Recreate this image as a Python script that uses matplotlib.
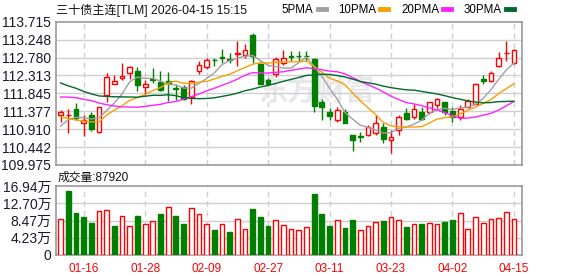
import numpy as np
import pandas as pd
import matplotlib
matplotlib.use("Agg")
import matplotlib.pyplot as plt
from matplotlib.lines import Line2D

plt.rcParams['font.family'] = ['Liberation Sans', 'Noto Sans CJK SC', 'DejaVu Sans']

# trading days shown (MM-DD)
dates = ['01-13', '01-14', '01-15', '01-16', '01-19', '01-20', '01-21', '01-22', '01-23', '01-26',
         '01-27', '01-28', '01-29', '01-30', '02-02', '02-03', '02-04', '02-05', '02-06', '02-09',
         '02-10', '02-11', '02-12', '02-13', '02-24', '02-25', '02-26', '02-27', '03-02', '03-03',
         '03-04', '03-05', '03-06', '03-09', '03-10', '03-11', '03-12', '03-13', '03-16', '03-17',
         '03-18', '03-19', '03-20', '03-23', '03-24', '03-25', '03-26', '03-27', '03-30', '03-31',
         '04-01', '04-02', '04-03', '04-07', '04-08', '04-09', '04-10', '04-13', '04-14', '04-15']
tick_dates = ['01-16', '01-28', '02-09', '02-27', '03-11', '03-23', '04-02', '04-15']

opens = [111.27, 111.27, 111.44, 111.07, 111.27, 110.84, 111.79, 112.10, 112.24, 112.37,
         112.42, 112.00, 112.23, 112.13, 112.17, 111.99, 112.00, 111.76, 112.44, 112.52,
         112.72, 112.79, 112.74, 112.87, 112.84, 113.38, 112.61, 112.19, 112.35, 112.64,
         112.82, 112.83, 112.83, 112.74, 111.62, 111.36, 111.14, 111.37, 110.76, 110.73,
         110.75, 110.81, 110.96, 110.63, 110.88, 111.32, 111.22, 111.37, 111.36, 111.53,
         111.61, 111.38, 111.23, 111.48, 111.58, 112.22, 112.16, 112.57, 112.89, 112.63]
highs = [111.41, 111.44, 111.59, 111.29, 111.35, 111.50, 112.37, 112.33, 112.64, 112.57,
         112.53, 112.19, 112.51, 112.42, 112.40, 112.09, 112.07, 112.20, 112.68, 112.78,
         112.77, 113.00, 112.91, 113.20, 113.14, 113.42, 112.64, 112.24, 112.79, 112.97,
         112.94, 112.94, 112.94, 112.77, 111.70, 111.46, 111.49, 111.44, 110.76, 110.84,
         111.03, 111.29, 111.07, 110.90, 111.27, 111.46, 111.58, 111.48, 111.63, 111.72,
         111.63, 111.48, 111.53, 111.69, 112.12, 112.33, 112.44, 112.92, 113.20, 113.00]
lows = [111.11, 110.81, 111.16, 110.74, 110.87, 110.82, 111.63, 112.10, 112.20, 112.23,
        111.90, 111.81, 112.11, 111.91, 111.65, 111.68, 111.68, 111.57, 112.35, 112.49,
        112.57, 112.65, 112.65, 112.55, 112.77, 112.65, 112.08, 112.07, 112.26, 112.58,
        112.70, 112.70, 112.68, 111.35, 111.16, 111.16, 111.09, 111.06, 110.35, 110.57,
        110.72, 110.75, 110.56, 110.30, 110.76, 111.14, 111.18, 111.16, 111.30, 111.46,
        111.29, 111.10, 111.15, 111.46, 111.56, 112.10, 112.13, 112.52, 112.70, 112.61]
closes = [111.35, 111.28, 111.20, 111.14, 110.92, 111.48, 112.26, 112.18, 112.31, 112.52,
          112.07, 112.09, 112.20, 111.94, 112.11, 111.97, 111.70, 112.18, 112.58, 112.72,
          112.71, 112.77, 112.72, 112.90, 112.97, 112.81, 112.10, 112.09, 112.75, 112.78,
          112.80, 112.81, 112.82, 111.52, 111.50, 111.25, 111.40, 111.08, 110.64, 110.71,
          110.96, 111.07, 110.66, 110.70, 111.24, 111.18, 111.43, 111.18, 111.61, 111.70,
          111.36, 111.24, 111.44, 111.65, 112.08, 112.16, 112.37, 112.76, 112.91, 112.98]
# closes before the first visible day (needed for the moving averages)
prev_closes = [113.48, 113.10, 113.64, 112.82, 113.08, 112.66, 112.43, 112.41, 112.62, 112.20,
               111.35, 111.47, 112.01, 111.59, 112.75, 113.13, 112.85, 112.78, 112.59, 112.17,
               111.68, 111.60, 111.44, 111.12, 111.51, 110.43, 110.90, 111.19, 111.08]
# volume in 万 (10k lots)
volume = [8.83, 15.79, 10.31, 9.33, 7.85, 10.72, 10.96, 7.12, 9.49, 7.03,
          9.57, 7.53, 8.26, 10.06, 11.70, 9.57, 7.61, 11.45, 9.98, 7.53,
          6.14, 7.53, 5.64, 8.83, 6.30, 11.29, 9.33, 7.12, 8.51, 7.28,
          6.30, 6.05, 6.79, 14.97, 10.06, 7.12, 8.51, 6.63, 8.59, 6.05,
          7.03, 8.02, 8.34, 9.24, 8.51, 6.87, 7.53, 7.61, 7.77, 7.53,
          8.10, 8.59, 10.23, 6.38, 9.24, 7.77, 8.83, 9.08, 10.47, 8.792]

price_ticks = [109.975, 110.442, 110.910, 111.377, 111.845, 112.313, 112.780, 113.248, 113.715]
price_labels = ['109.975', '110.442', '110.910', '111.377', '111.845', '112.313', '112.780', '113.248', '113.715']
vol_ticks = [0, 4.235, 8.47, 12.705, 16.94]
vol_labels = ['0', '4.23万', '8.47万', '12.70万', '16.94万']

ma_periods = [5, 10, 20, 30]
ma_names = ['5PMA', '10PMA', '20PMA', '30PMA']
ma_colors = ['#a0a0a0', '#f5a100', '#ff22ff', '#006a2a']

RED = '#ff0000'
GREEN = '#007f00'
GRID = '#cfcfcf'
FRAME = '#999999'

o = np.array(opens)
h = np.array(highs)
l = np.array(lows)
c = np.array(closes)
v = np.array(volume)
x = np.arange(len(c))
n = len(c)

all_close = pd.Series(prev_closes + closes)
prev = np.concatenate([[prev_closes[-1]], c[:-1]])

fig = plt.figure(figsize=(5.78, 2.76), dpi=100)
ax = fig.add_axes([56 / 578, 1 - 165 / 276, 466 / 578, 143.3 / 276])
axv = fig.add_axes([56 / 578, 1 - 255 / 276, 466 / 578, 69 / 276])

tick_pos = [dates.index(d) for d in tick_dates]

for a in (ax, axv):
    a.set_xlim(-0.6, n + 0.05)
    for s in a.spines.values():
        s.set_color(FRAME)
        s.set_linewidth(1.2)
    a.tick_params(length=0)
    for p in tick_pos:
        a.axvline(p, color=GRID, linestyle=(0, (4, 3)), linewidth=1, zorder=0)

# watermark
ax.text(0.56, 0.52, '东方财富', transform=ax.transAxes, ha='center', va='center',
        fontsize=21, fontweight='bold', color='#e8e8ec', family=['Noto Sans CJK SC'], zorder=0)

# price panel
ax.set_ylim(price_ticks[0], price_ticks[-1])
ax.set_yticks(price_ticks)
ax.set_yticklabels(price_labels, fontsize=10, color='#1a1a2a')
ax.set_xticks([])
for t in price_ticks[1:-1]:
    ax.axhline(t, color=GRID, linewidth=1, zorder=0)

up = c >= o
w = 0.62
body_low = np.minimum(o, c)
body_h = np.maximum(np.abs(c - o), 0.006)
wick_col = np.where(up, RED, GREEN)
ax.vlines(x, l, h, colors=wick_col, linewidth=1, zorder=2)
ax.bar(x[up], body_h[up], w, bottom=body_low[up], facecolor='white', edgecolor=RED,
       linewidth=1, zorder=3)
ax.bar(x[~up], body_h[~up], w, bottom=body_low[~up], facecolor=GREEN, edgecolor=GREEN,
       linewidth=1, zorder=3)

handles = []
for per, name, col in zip(ma_periods, ma_names, ma_colors):
    ma = all_close.rolling(per).mean().to_numpy()[-n:]
    ax.plot(x, ma, color=col, linewidth=1, zorder=4)
    handles.append(Line2D([], [], color=col, linewidth=3.5))

fig.legend(handles, ma_names, ncol=4, markerfirst=False, frameon=False,
           loc='center right', bbox_to_anchor=(514 / 578, 1 - 10 / 276),
           handlelength=0.7, handletextpad=0.35, columnspacing=1.1,
           borderaxespad=0, borderpad=0, prop={'size': 8.3})

fig.text(56 / 578, 1 - 10 / 276, '三十债主连[TLM] 2026-04-15 15:15', fontsize=8.7,
         ha='left', va='center', color='#111111')

# volume panel
vup = c >= prev
axv.set_ylim(0, vol_ticks[-1])
axv.set_yticks(vol_ticks)
axv.set_yticklabels(vol_labels, fontsize=10, color='#1a1a2a')
for t in vol_ticks[1:-1]:
    axv.axhline(t, color=GRID, linewidth=1, zorder=0)
axv.bar(x[vup], v[vup], w, facecolor='white', edgecolor=RED, linewidth=1, zorder=3)
axv.bar(x[~vup], v[~vup], w, facecolor=GREEN, edgecolor=GREEN, linewidth=1, zorder=3)
axv.set_xticks(tick_pos)
axv.set_xticklabels(tick_dates, fontsize=8.5, color=RED)
axv.tick_params(axis='x', pad=6)

fig.text(58 / 578, 1 - 178 / 276, '成交量:%d' % round(volume[-1] * 10000), fontsize=8.5,
         ha='left', va='center', color='#111111')

fig.savefig('out.png', dpi=100)
